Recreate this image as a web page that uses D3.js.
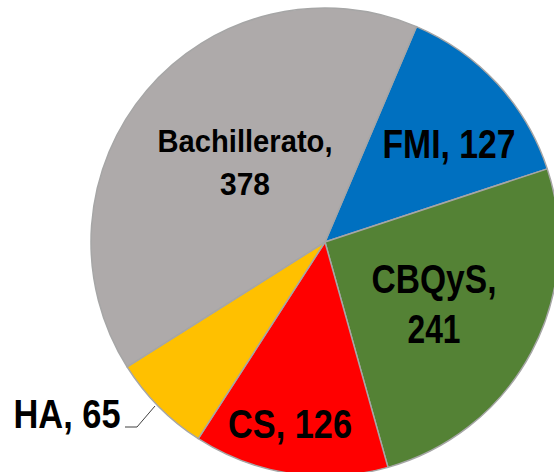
<!DOCTYPE html>
<html>
<head>
<meta charset="utf-8">
<script src="https://cdn.jsdelivr.net/npm/d3@7"></script>
<style>
html,body{margin:0;padding:0;background:#fff;}
svg{display:block;}
text{font-family:"Liberation Sans Narrow","Arial Narrow","Liberation Sans",Arial,sans-serif;font-weight:bold;fill:#000;}
</style>
</head>
<body>
<svg id="chart" width="554" height="472"></svg>
<script>
const categories = ["FMI", "CBQyS", "CS", "HA", "Bachillerato"];
const values = [127, 241, 126, 65, 378];
const colors = ["#0070c0", "#548235", "#ff0000", "#ffc000", "#aeaaaa"];

const W = 554, H = 472;
const cx = 325, cy = 242, R = 234;
const startDeg = 23;

const svg = d3.select("#chart");
const g = svg.append("g").attr("transform", `translate(${cx},${cy})`);

const pie = d3.pie().sort(null).value(d => d.v)
  .startAngle(startDeg * Math.PI / 180)
  .endAngle(startDeg * Math.PI / 180 + 2 * Math.PI);
const data = categories.map((c, i) => ({c, v: values[i], col: colors[i]}));
const arcs = pie(data);
const arc = d3.arc().innerRadius(0).outerRadius(R);

g.selectAll("path").data(arcs).enter().append("path")
  .attr("d", arc)
  .attr("fill", d => d.data.col)
  .attr("stroke", "#a6a6a6")
  .attr("stroke-width", 1.5)
  .attr("stroke-linejoin", "round");

// label layout
const labelSpec = {
  "FMI": {lines: [d => `FMI, ${d}`], x: 449, y: [158], w: [133], size: 41},
  "CBQyS": {lines: [d => "CBQyS,", d => `${d}`], x: 434, y: [293, 343], w: [125, 53], size: 41},
  "CS": {lines: [d => `CS, ${d}`], x: 290, y: [438], w: [124], size: 41},
  "HA": {lines: [d => `HA, ${d}`], x: 67, y: [428], w: [107], size: 41},
  "Bachillerato": {lines: [d => "Bachillerato,", d => `${d}`], x: 245, y: [152, 195], w: [175, 50], size: 32}
};

arcs.forEach(a => {
  const s = labelSpec[a.data.c];
  s.lines.forEach((fn, k) => {
    svg.append("text")
      .attr("x", s.x)
      .attr("y", s.y[k])
      .attr("text-anchor", "middle")
      .attr("textLength", s.w[k])
      .attr("lengthAdjust", "spacingAndGlyphs")
      .style("font-size", s.size + "px")
      .text(fn(a.data.v));
  });
});

// leader line for HA
svg.append("polyline")
  .attr("points", [[125, 427], [137, 427], [155, 406]].map(p => p.join(",")).join(" "))
  .attr("fill", "none")
  .attr("stroke", "#404040")
  .attr("stroke-width", 1);
</script>
</body>
</html>
